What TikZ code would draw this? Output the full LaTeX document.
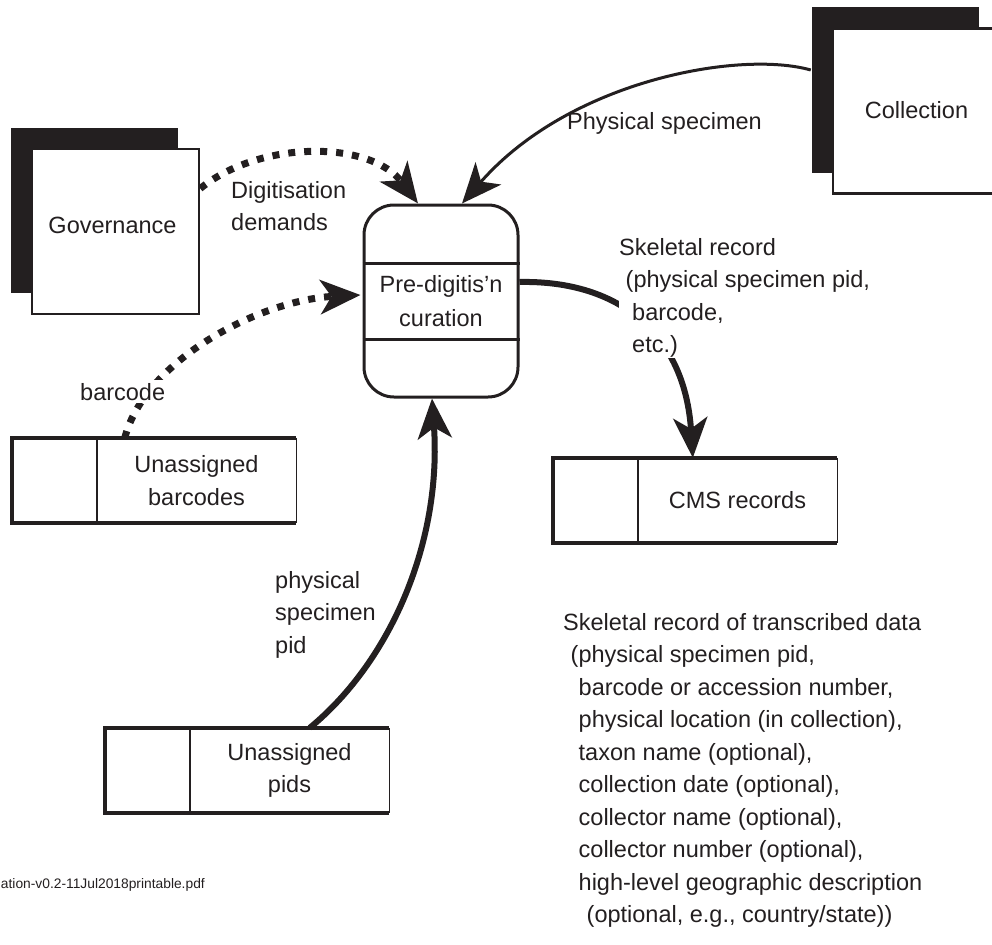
\documentclass[tikz,border=0pt]{standalone}
\usepackage{fontspec}
\setmainfont{Liberation Sans}
\usetikzlibrary{arrows.meta,calc,shadows}
\definecolor{ink}{HTML}{231F20}
\tikzset{
  every node/.style={text=ink},
  txt/.style={font=\fontsize{23.5bp}{32.5bp}\selectfont, inner sep=0pt},
  entity/.style={draw=ink, line width=2.5bp, fill=white,
    minimum width=167bp, minimum height=165bp,
    general shadow={fill=ink, shadow xshift=-21bp, shadow yshift=21bp}},
  process/.style={txt, draw=ink, line width=3bp, rounded corners=30bp,
    minimum width=154bp, minimum height=192bp, align=center,
    font=\fontsize{23.5bp}{34bp}\selectfont},
  store/.style={txt, minimum width=199bp, minimum height=85bp, align=center},
  storeedge/.style={draw=ink, line width=4.5bp, line join=miter},
  flowtip/.style={-{Stealth[length=40bp,width=34bp,inset=11bp]}},
  solidflow/.style={draw=ink, line width=6bp, flowtip},
  thinflow/.style={draw=ink, line width=3bp, flowtip},
  dashflow/.style={draw=ink, line width=7bp, dash pattern=on 7bp off 9bp, flowtip},
  lbl/.style={txt, align=left, anchor=north west},
}
\begin{document}
\begin{tikzpicture}[x=1bp,y=-1bp]
\useasboundingbox (0,0) rectangle (992,945);

% external entities with drop shadows
\node[entity] (gov) at (115.5,231.5) {};
\node[txt] (govtext) at ($(gov.center)+(-3,-6)$) {Governance};
\node[entity] (coll) at (916.5,111) {};
\node[txt] (colltext) at ($(coll.center)+(0,-1)$) {Collection};

% the process
\node[process] (proc) at (441,301) {Pre-digitis’n\\curation};
\draw[draw=ink, line width=3bp] ($(proc.west)+(0,-38)$) -- ($(proc.east)+(0,-38)$);
\draw[draw=ink, line width=3bp] ($(proc.west)+(0,38)$) -- ($(proc.east)+(0,38)$);

% data stores
\node[store] (barc) at (196.5,480.5) {Unassigned\\barcodes};
\node[store] (cms) at (737.5,500.5) {CMS records};
\node[store] (pids) at (289.5,770.5) {Unassigned\\pids};
\foreach \s in {barc,cms,pids} {
  \draw[storeedge] (\s.north east) -- ([xshift=-85bp]\s.north west)
    -- ([xshift=-85bp]\s.south west) -- (\s.south east);
  \draw[draw=ink, line width=1bp] (\s.north east) -- (\s.south east);
  \draw[draw=ink, line width=2bp] (\s.north west) -- (\s.south west);
}

% data flows
\coordinate (govout) at ($(gov.east)+(0,-43)$);
\draw[dashflow] (govout) .. controls (260,140) and (370,140) .. ([xshift=-23bp]proc.north);
\draw[dashflow] ([xshift=28bp]barc.north west) .. controls (145,360) and (260,300) .. ($(proc.west)+(-2,-6)$);
\coordinate (collout) at ($(coll.west)+(-21,-41)$);
\draw[thinflow] (collout) .. controls (740,50) and (570,80) .. ([xshift=21bp]proc.north);
\draw[solidflow] ([yshift=19bp]proc.east) .. controls (620,280) and (685,335) .. ([xshift=55bp]cms.north west);
\draw[solidflow] ([xshift=120bp]pids.north west) .. controls (392,660) and (442,540) .. ([xshift=-9bp]proc.south);

% flow labels
\node[lbl] (ldig) at (231,181) {Digitisation\\demands};
\node[lbl, fill=white, inner sep=3bp] (lbar) at (77,380) {barcode};
\node[lbl] (lphys) at (567,112) {Physical specimen};
\node[lbl, fill=white] (lskel) at (619,238) {Skeletal record\\\hspace*{6.5bp}(physical specimen pid,\\\hspace*{13bp}barcode,\\\hspace*{13bp}etc.)};
\node[lbl] (lpid) at (275,571) {physical\\specimen\\pid};

% note on the skeletal record
\node[lbl] (notes) at (563,613) {Skeletal record of transcribed data\\
\hspace*{7.5bp}(physical specimen pid,\\
\hspace*{15.5bp}barcode or accession number,\\
\hspace*{15.5bp}physical location (in collection),\\
\hspace*{15.5bp}taxon name (optional),\\
\hspace*{15.5bp}collection date (optional),\\
\hspace*{15.5bp}collector name (optional),\\
\hspace*{15.5bp}collector number (optional),\\
\hspace*{15.5bp}high-level geographic description\\
\hspace*{23.5bp}(optional, e.g., country/state))};

% source file name
\node[font=\fontsize{13.8bp}{16bp}\selectfont, anchor=base east, inner sep=0pt] (src) at (205,888) {ation-v0.2-11Jul2018printable.pdf};
\end{tikzpicture}
\end{document}
